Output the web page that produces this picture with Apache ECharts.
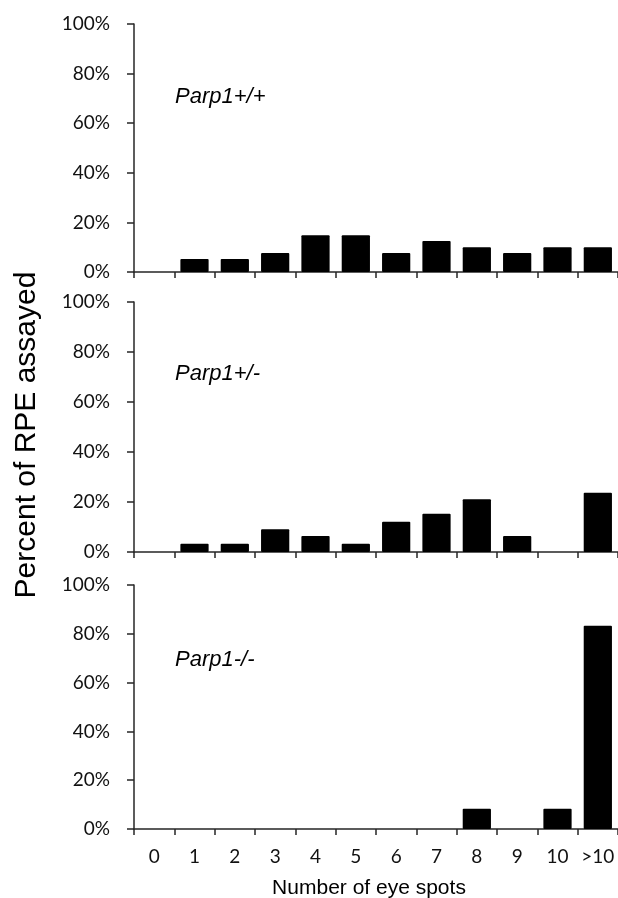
<!DOCTYPE html>
<html>
<head>
<meta charset="utf-8">
<style>
  html, body { margin: 0; padding: 0; background: #fff; }
  #chart { width: 618px; height: 898px; }
</style>
<script src="https://cdn.jsdelivr.net/npm/echarts@6/dist/echarts.min.js"></script>
</head>
<body>
<div id="chart"></div>
<script>
// Eye-spot counts per RPE flat mount, by genotype
const categories = ['0', '1', '2', '3', '4', '5', '6', '7', '8', '9', '10', '>10'];
const wildTypePct = [0, 5.2, 5.2, 7.7, 14.8, 14.8, 7.7, 12.5, 10.0, 7.7, 10.0, 10.0];
const hetPct = [0, 3.3, 3.3, 9.1, 6.4, 3.3, 12.1, 15.3, 21.1, 6.4, 0, 23.7];
const knockoutPct = [0, 0, 0, 0, 0, 0, 0, 0, 8.3, 0, 8.3, 83.3];
const panelNames = ['Parp1+/+', 'Parp1+/-', 'Parp1-/-'];
const yTicks = [0, 20, 40, 60, 80, 100];

const panels = [wildTypePct, hetPct, knockoutPct];
const gridTops = [24, 302, 585];
const gridHeights = [248, 250, 244];
const labelY = [97, 374, 660];

const axisColor = '#262626';
const tickFont = 'Lato, "Open Sans", sans-serif';

const chart = echarts.init(document.getElementById('chart'), null, { renderer: 'canvas' });

const grids = panels.map((_, i) => ({
  left: 134, top: gridTops[i], width: 486, height: gridHeights[i], containLabel: false
}));

const xAxes = panels.map((_, i) => ({
  type: 'category',
  gridIndex: i,
  data: categories,
  boundaryGap: true,
  axisLine: { show: true, lineStyle: { color: axisColor, width: 1.5 } },
  axisTick: { show: true, interval: 0, length: 6, alignWithLabel: false,
              lineStyle: { color: axisColor, width: 1.5 } },
  axisLabel: { show: i === 2, interval: 0, margin: 18, color: '#111',
               fontFamily: tickFont, fontSize: 19 },
  splitLine: { show: false }
}));

const yAxes = panels.map((_, i) => ({
  type: 'value',
  gridIndex: i,
  min: yTicks[0],
  max: yTicks[yTicks.length - 1],
  interval: yTicks[1] - yTicks[0],
  axisLine: { show: true, lineStyle: { color: axisColor, width: 1.5 } },
  axisTick: { show: true, length: 7, lineStyle: { color: axisColor, width: 1.5 } },
  axisLabel: { margin: 24, color: '#111', fontFamily: tickFont, fontSize: 19,
               formatter: '{value}%' },
  splitLine: { show: false }
}));

const series = panels.map((vals, i) => ({
  type: 'bar',
  xAxisIndex: i,
  yAxisIndex: i,
  data: vals,
  barCategoryGap: '30%',
  itemStyle: { color: '#000', borderRadius: 1 },
  silent: true
}));

const graphics = panelNames.map((name, i) => ({
  type: 'text',
  left: 175,
  top: labelY[i] - 11,
  style: {
    text: name,
    font: 'italic 22px "Liberation Sans", Arial, sans-serif',
    fill: '#000'
  }
}));

graphics.push({
  type: 'text',
  x: 369,
  y: 888,
  style: {
    text: 'Number of eye spots',
    font: '21px "Liberation Sans", Arial, sans-serif',
    fill: '#000',
    align: 'center',
    verticalAlign: 'middle'
  }
});

graphics.push({
  type: 'text',
  x: 27,
  y: 435,
  rotation: Math.PI / 2,
  style: {
    text: 'Percent of RPE assayed',
    font: '30px "Liberation Sans", Arial, sans-serif',
    fill: '#000',
    align: 'center',
    verticalAlign: 'middle'
  }
});

chart.setOption({
  animation: false,
  backgroundColor: '#fff',
  grid: grids,
  xAxis: xAxes,
  yAxis: yAxes,
  series: series,
  graphic: graphics
});
</script>
</body>
</html>
